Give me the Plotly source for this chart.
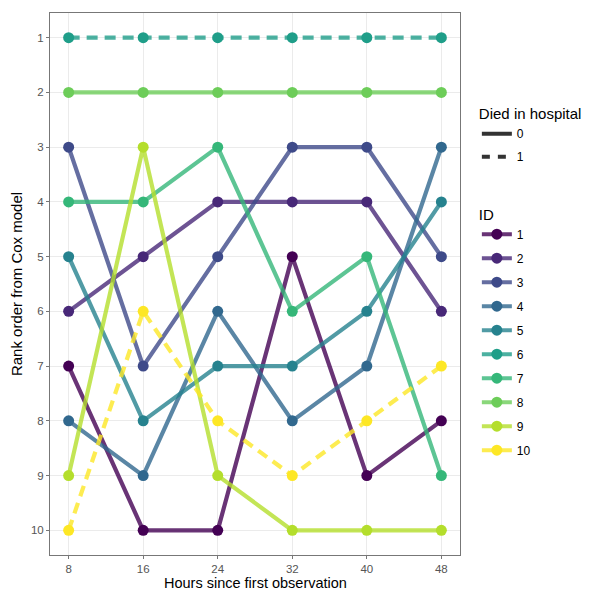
import plotly.graph_objects as go

hours = [8, 16, 24, 32, 40, 48]
ids = ["1", "2", "3", "4", "5", "6", "7", "8", "9", "10"]
died = [0, 0, 0, 0, 0, 1, 0, 0, 0, 1]
ranks = {
    "1": [7, 10, 10, 5, 9, 8],
    "2": [6, 5, 4, 4, 4, 6],
    "3": [3, 7, 5, 3, 3, 5],
    "4": [8, 9, 6, 8, 7, 3],
    "5": [5, 8, 7, 7, 6, 4],
    "6": [1, 1, 1, 1, 1, 1],
    "7": [4, 4, 3, 6, 5, 9],
    "8": [2, 2, 2, 2, 2, 2],
    "9": [9, 3, 9, 10, 10, 10],
    "10": [10, 6, 8, 9, 8, 7],
}
y_ticks = list(range(1, 11))
colors = ["#440154", "#482878", "#3E4A89", "#31688E", "#26828E",
          "#1F9E89", "#35B779", "#6DCD59", "#B4DE2C", "#FDE725"]


def rgba(h, a):
    h = h.lstrip("#")
    r, g, b = int(h[0:2], 16), int(h[2:4], 16), int(h[4:6], 16)
    return f"rgba({r},{g},{b},{a})"


FONT = "Liberation Sans, Arial, sans-serif"
DASH = "11px,7px"

fig = go.Figure()

for i, pid in enumerate(ids):
    fig.add_trace(go.Scatter(
        x=hours, y=ranks[pid], mode="lines",
        line=dict(color=rgba(colors[i], 0.8), width=4.2,
                  dash=DASH if died[i] == 1 else "solid"),
        showlegend=False, hoverinfo="skip"))
for i, pid in enumerate(ids):
    fig.add_trace(go.Scatter(
        x=hours, y=ranks[pid], mode="markers",
        marker=dict(color=colors[i], size=11),
        showlegend=False, name=pid))

# legend: Died in hospital
for d in ["0", "1"]:
    fig.add_trace(go.Scatter(
        x=[None], y=[None], mode="lines", name=d,
        line=dict(color="#333333", width=4, dash="8px,8px" if d == "1" else "solid"),
        legend="legend", legendgroup="d" + d, showlegend=True))

# legend: ID
for i, pid in enumerate(ids):
    fig.add_trace(go.Scatter(
        x=[None], y=[None], mode="lines+markers", name=pid,
        line=dict(color=rgba(colors[i], 0.8), width=4),
        marker=dict(color=colors[i], size=11),
        legend="legend2", legendgroup="id" + pid, showlegend=True))

axis_common = dict(
    showgrid=True, gridcolor="#EBEBEB", gridwidth=1,
    showline=True, linecolor="#777777", linewidth=1, mirror=True,
    ticks="outside", ticklen=3, tickcolor="#777777",
    tickfont=dict(family=FONT, size=11.5, color="#555555"),
    zeroline=False, automargin=False,
)

# page body has an 8px margin, so the figure is sized to fit the 589x592 window
fig.update_layout(
    width=581, height=584,
    margin=dict(l=42, r=129, t=5, b=37),
    plot_bgcolor="white", paper_bgcolor="white",
    font=dict(family=FONT),
    xaxis=dict(range=[6, 50], tickvals=hours, ticktext=[str(h) for h in hours],
               **axis_common),
    yaxis=dict(range=[10.45, 0.55], tickvals=y_ticks, ticktext=[str(t) for t in y_ticks],
               title=dict(text="Rank order from Cox model", standoff=4,
                          font=dict(family=FONT, size=15, color="black")),
               **axis_common),
    annotations=[dict(
        text="Hours since first observation", xref="paper", yref="paper",
        x=0.5, y=0, xanchor="center", yanchor="middle", yshift=-28,
        showarrow=False, font=dict(family=FONT, size=14.5, color="black"))],
    legend=dict(
        title=dict(text="Died in hospital", font=dict(family=FONT, size=15, color="black")),
        font=dict(family=FONT, size=12, color="black"),
        xref="container", yref="container", x=0.807, y=0.843,
        xanchor="left", yanchor="top", itemwidth=30,
        traceorder="grouped", tracegroupgap=4, bgcolor="rgba(0,0,0,0)"),
    legend2=dict(
        title=dict(text="ID", font=dict(family=FONT, size=15, color="black")),
        font=dict(family=FONT, size=12, color="black"),
        xref="container", yref="container", x=0.807, y=0.671,
        xanchor="left", yanchor="top", itemwidth=30,
        traceorder="grouped", tracegroupgap=5, bgcolor="rgba(0,0,0,0)"),
)

fig.write_html("out.html")
